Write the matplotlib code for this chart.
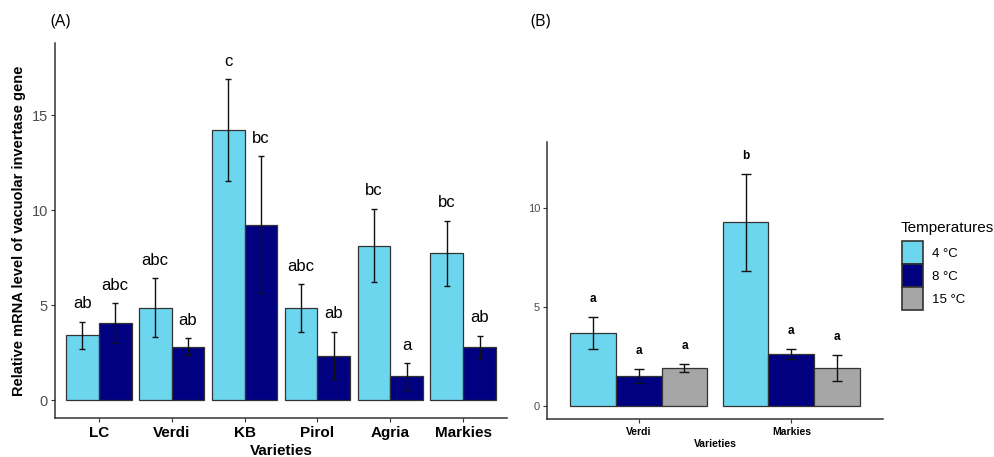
import matplotlib
matplotlib.use('Agg')
import matplotlib.pyplot as plt
from matplotlib.patches import Patch
import numpy as np

plt.rcParams['font.family'] = ['Liberation Sans', 'DejaVu Sans']

# Panel A data: relative mRNA level per variety
varieties_a = ['LC', 'Verdi', 'KB', 'Pirol', 'Agria', 'Markies']
a_mean_4 = [3.42, 4.86, 14.2, 4.86, 8.14, 7.74]
a_se_4 = [0.72, 1.55, 2.68, 1.25, 1.93, 1.70]
a_mean_8 = [4.05, 2.81, 9.23, 2.35, 1.26, 2.81]
a_se_8 = [1.06, 0.45, 3.60, 1.25, 0.70, 0.58]
a_letters_4 = ['ab', 'abc', 'c', 'abc', 'bc', 'bc']
a_letters_8 = ['abc', 'ab', 'bc', 'ab', 'a', 'ab']

# Panel B data
varieties_b = ['Verdi', 'Markies']
b_mean_4 = [3.70, 9.28]
b_se_4 = [0.82, 2.46]
b_mean_8 = [1.52, 2.61]
b_se_8 = [0.36, 0.25]
b_mean_15 = [1.90, 1.90]
b_se_15 = [0.20, 0.66]
b_letters_4 = ['a', 'b']
b_letters_8 = ['a', 'a']
b_letters_15 = ['a', 'a']

temps = ['4 °C', '8 °C', '15 °C']
colors = ['#6CD6EE', '#000080', '#A6A6A6']
edge = '#333333'
tick_grey = '#4D4D4D'

W, H = 995, 457
fig = plt.figure(figsize=(W / 100, H / 100), dpi=100)

def box(x0, x1, ytop, ybot):
    return [x0 / W, (H - ybot) / H, (x1 - x0) / W, (ybot - ytop) / H]

ax_a = fig.add_axes(box(55, 507, 43, 418))
ax_b = fig.add_axes(box(547, 883, 142, 419))


def style(ax, tick_size, xtick_size):
    for s in ['top', 'right']:
        ax.spines[s].set_visible(False)
    for s in ['left', 'bottom']:
        ax.spines[s].set_color(edge)
        ax.spines[s].set_linewidth(1.1)
    ax.tick_params(axis='y', length=3, color=edge, labelcolor=tick_grey,
                   labelsize=tick_size, pad=2)
    ax.tick_params(axis='x', length=3, color=edge, labelsize=xtick_size, pad=3)
    for lab in ax.get_xticklabels():
        lab.set_fontweight('bold')


# ---- Panel A ----
xa = np.arange(1, len(varieties_a) + 1)
wa = 0.45
series_a = [(a_mean_4, a_se_4, a_letters_4, -wa / 2, colors[0]),
            (a_mean_8, a_se_8, a_letters_8, wa / 2, colors[1])]
for mean, se, letters, off, col in series_a:
    ax_a.bar(xa + off, mean, width=wa, color=col, edgecolor=edge, linewidth=0.9)
    ax_a.errorbar(xa + off, mean, yerr=se, fmt='none', ecolor='#111111',
                  elinewidth=1.0, capsize=2.5, capthick=1.0)
    for xi, m, s, t in zip(xa + off, mean, se, letters):
        ax_a.annotate(t, (xi, m + s), xytext=(0, 13), textcoords='offset points',
                      ha='center', va='center', fontsize=12)

ax_a.set_xlim(0.4, 6.6)
ax_a.set_ylim(-0.93, 18.8)
ax_a.set_yticks([0, 5, 10, 15])
ax_a.set_xticks(xa)
ax_a.set_xticklabels(varieties_a)
style(ax_a, 10.5, 11)
ax_a.set_xlabel('Varieties', fontsize=11, fontweight='bold', labelpad=2.5)
ax_a.set_ylabel('Relative mRNA level of vacuolar invertase gene', fontsize=10.5,
                fontweight='bold', labelpad=4)

# ---- Panel B ----
xb = np.arange(1, len(varieties_b) + 1)
wb = 0.3
series_b = [(b_mean_4, b_se_4, b_letters_4, -wb, colors[0]),
            (b_mean_8, b_se_8, b_letters_8, 0, colors[1]),
            (b_mean_15, b_se_15, b_letters_15, wb, colors[2])]
for mean, se, letters, off, col in series_b:
    ax_b.bar(xb + off, mean, width=wb, color=col, edgecolor=edge, linewidth=0.9)
    ax_b.errorbar(xb + off, mean, yerr=se, fmt='none', ecolor='#111111',
                  elinewidth=1.0, capsize=3.5, capthick=1.0)
    for xi, m, s, t in zip(xb + off, mean, se, letters):
        ax_b.annotate(t, (xi, m + s), xytext=(0, 13), textcoords='offset points',
                      ha='center', va='center', fontsize=8.5, fontweight='bold')

ax_b.set_xlim(0.4, 2.6)
ax_b.set_ylim(-0.66, 13.35)
ax_b.set_yticks([0, 5, 10])
ax_b.set_xticks(xb)
ax_b.set_xticklabels(varieties_b)
style(ax_b, 8, 7.5)
ax_b.set_xlabel('Varieties', fontsize=7.5, fontweight='bold', labelpad=1)

# legend: keys stacked with no gap, title as separate text
handles = [Patch(facecolor=c, edgecolor=edge, linewidth=1.2) for c in colors]
leg = fig.legend(handles, temps, loc='upper left',
                 bbox_to_anchor=(902 / W, (H - 241) / H), frameon=False,
                 fontsize=9.5, handlelength=1.6, handleheight=2.31,
                 labelspacing=0.0, handletextpad=0.7, borderpad=0,
                 borderaxespad=0)
fig.text(901 / W, (H - 228) / H, 'Temperatures', fontsize=11, ha='left',
         va='center')

fig.text(50 / W, (H - 22) / H, '(A)', fontsize=12, va='center', ha='left',
         family=['Open Sans', 'DejaVu Sans'])
fig.text(530 / W, (H - 22) / H, '(B)', fontsize=12, va='center', ha='left',
         family=['Open Sans', 'DejaVu Sans'])

fig.savefig('out.png', dpi=100)
